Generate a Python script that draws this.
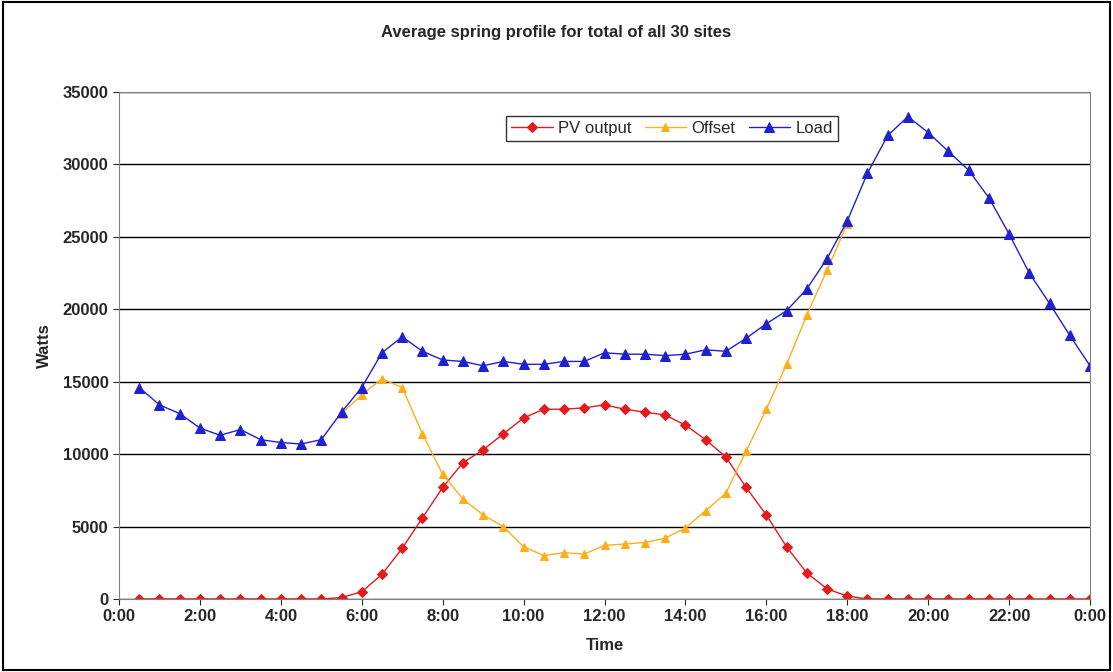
import numpy as np, pandas as pd, matplotlib
matplotlib.use("Agg")
import matplotlib.pyplot as plt, seaborn as sns
from matplotlib.patches import Rectangle

hours = [0.5*i for i in range(1, 49)]
load = [14600,13400,12800,11800,11300,11700,11000,10800,10700,11000,12900,14600,17000,18100,17100,16500,
        16400,16100,16400,16200,16200,16400,16400,17000,16900,16900,16800,16900,17200,17100,18000,19000,
        19900,21400,23500,26100,29400,32000,33300,32200,30900,29600,27700,25200,22500,20400,18200,16100]
pv = [0]*10 + [100,500,1700,3500,5600,7700,9400,10300,11400,12500,13100,13100,13200,13400,13100,12900,
       12700,12000,11000,9800,7700,5800,3600,1800,700,200] + [0]*12
offset = [np.nan]*10 + [12800,14100,15200,14600,11400,8600,6900,5800,5000,3600,3000,3200,3100,3700,3800,
          3900,4200,4900,6100,7300,10200,13100,16200,19600,22700,25900] + [np.nan]*12
xticks = list(range(0, 25, 2))
xlabels = ["0:00","2:00","4:00","6:00","8:00","10:00","12:00","14:00","16:00","18:00","20:00","22:00","0:00"]

df = pd.DataFrame({"Time": hours, "PV output": pv, "Offset": offset, "Load": load})
sns.set_style("white")
plt.rcParams['font.family'] = ['Liberation Sans', 'DejaVu Sans']
fig = plt.figure(figsize=(11.13, 6.72), dpi=100)
ax = fig.add_axes([119/1113, 1-599/672, (1090-119)/1113, (599-92)/672])
styles = [("PV output", "#e41a1c", "D", 5), ("Offset", "#ffae1a", "^", 6), ("Load", "#2020d0", "^", 7)]
for name, c, m, ms in styles:
    sns.lineplot(data=df, x="Time", y=name, ax=ax, color=c, marker=m, markersize=ms,
                 markeredgecolor=c, linewidth=1, label=name)
ax.set_xlim(0, 24); ax.set_ylim(0, 35000)
ax.set_xticks(xticks); ax.set_xticklabels(xlabels)
ax.set_yticks(range(0, 35001, 5000))
ax.yaxis.grid(True, color="black", linewidth=1)
for s in ax.spines.values(): s.set_color("#808080")
ax.tick_params(labelsize=12, length=4, direction="out", bottom=True, left=True)
for t in ax.get_xticklabels()+ax.get_yticklabels(): t.set_fontweight("bold")
ax.set_xlabel("Time", fontsize=12, fontweight="bold", labelpad=10)
ax.set_ylabel("Watts", fontsize=12, fontweight="bold", labelpad=8)
fig.text(0.5, 1-32/672, "Average spring profile for total of all 30 sites", ha="center", va="center",
         fontsize=12, fontweight="bold")
leg = ax.legend(loc="upper left", bbox_to_anchor=(0.39, 0.97), ncol=3, frameon=True, fancybox=False,
                edgecolor="black", fontsize=12, handlelength=2.5, columnspacing=0.8, handletextpad=0.3,
                borderpad=0.3)
fig.patches.append(Rectangle((0.003, 0.003), 0.994, 0.994, transform=fig.transFigure, fill=False,
                             edgecolor="black", linewidth=1.5))
fig.savefig("out.png", dpi=100)
